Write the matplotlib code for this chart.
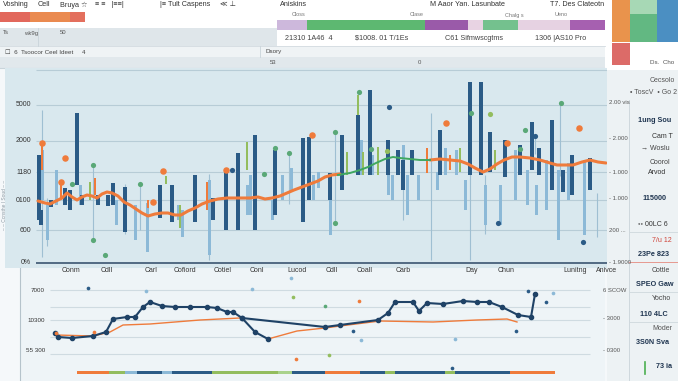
import matplotlib.pyplot as plt
from matplotlib.patches import Rectangle

plt.rcParams['font.family'] = ['Liberation Sans', 'DejaVu Sans']

W, H = 678, 381

# colours
DARK = "#2b5b86"
LIGHT = "#8cb9d7"
GREEN = "#93bd5e"
TEAL = "#5aa877"
ORANGE = "#ef7b3b"
kind_color = {"D": DARK, "L": LIGHT, "G": GREEN, "O": ORANGE, "T": TEAL,
              "g": "#a9d28c"}

# ---- main chart: range bars (x along timeline, low / high value)
bar_x = [39, 42, 42, 41, 47, 51, 56, 61, 65, 70, 77, 80, 82, 90, 95, 98, 108, 113,
         116, 125, 135, 147, 148, 160, 166, 172, 178, 180, 182, 195, 209, 207, 213,
         226, 238, 247, 247, 250, 255, 272, 275, 282, 291, 303, 309, 313, 318, 330,
         330, 342, 347, 358, 358, 361, 363, 370, 372, 378, 388, 388, 392, 398, 403,
         403, 407, 412, 418, 427, 437, 440, 445, 450, 456, 460, 465, 470, 481, 485,
         490, 495, 500, 505, 515, 520, 527, 532, 536, 539, 546, 552, 558, 563, 568,
         572, 584, 590, 597, 603]
bar_lo = [44, 64, 94, 39, 24, 57, 59, 64, 59, 54, 79, 59, 59, 64, 69, 59, 58, 59,
          39, 32, 24, 12, 56, 46, 80, 42, 44, 36, 27, 42, 9, 54, 44,
          34, 34, 94, 49, 49, 34, 44, 49, 64, 74, 42, 64, 64, 76, 29,
          64, 74, 89, 149, 89, 89, 89, 89, 89, 89, 89, 69, 64, 89, 89,
          74, 49, 89, 64, 91, 74, 89, 89, 94, 89, 92, 54, 89, 89, 39,
          92, 94, 39, 87, 64, 89, 59, 94, 49, 89, 54, 74, 24, 72, 64,
          69, 29, 74, 71, 72]
bar_hi = [109, 114, 119, 54, 59, 64, 94, 84, 76, 74, 151, 79, 69, 82, 86, 69, 69, 81,
          64, 77, 59, 61, 64, 79, 88, 79, 59, 59, 54, 89, 84, 82, 66,
          94, 111, 122, 79, 89, 129, 64, 114, 89, 96, 126, 127, 89, 92, 91,
          91, 129, 112, 169, 149, 124, 112, 174, 109, 117, 124, 89, 89, 114, 119,
          104, 89, 114, 89, 116, 92, 134, 116, 109, 114, 116, 84, 182, 182, 79,
          132, 114, 79, 124, 114, 119, 94, 142, 79, 116, 104, 144, 94, 94, 101,
          109, 104, 106, 157, 109]
bar_kind = ("DLODLDLODDDLDGODDDLDLLODGDLGLDLODDDGLLDLDLLDDLLLDDGGDLGDLGDLLDLDLDLOLDLOLGLDDLDGLDLDLDLDLDLDLDLD")

# thin stems
stem_x = [42, 47, 93, 125, 140, 209, 289, 335, 470, 485, 403, 560, 535, 597, 431]
stem_lo = [7, 18, 24, 30, 34, 4, 60, 41, 4, 30, 44, 88, 110, 27, 4]
stem_hi = [154, 66, 99, 80, 80, 90, 111, 132, 151, 89, 89, 161, 128, 71, 151]

# round markers
dot_x = [42, 65, 61, 72, 93, 93, 105, 140, 153, 163, 226, 232, 264, 289, 275, 312,
         335, 335, 359, 389, 471, 490, 446, 561, 579, 535, 525, 371, 387, 507, 520,
         583, 498]
dot_y = [121, 106, 82, 80, 99, 24, 9, 80, 62, 93, 94, 94, 90, 111, 116, 129,
         132, 41, 172, 157, 151, 150, 141, 161, 136, 128, 134, 115, 113, 121, 115,
         22, 41]
dot_kind = "OOOTTTTTOOODTTTOTTTDTGOTODTTGOTDD"

# orange and green trend lines
trend_x = [38, 45, 50, 56, 62, 67, 72, 77, 82, 87, 92, 97, 102, 107, 112, 118, 124,
           130, 136, 142, 148, 155, 162, 168, 175, 181, 188, 195, 202, 210, 218, 227,
           235, 243, 250, 258, 265, 272, 280, 287, 294, 302, 310, 318, 325, 332, 340]
trend_y = [63, 61, 60, 63, 66, 71, 67, 64, 67, 69, 68, 66, 70, 72, 71, 68, 62,
           59, 55, 51, 48, 50, 51, 51, 49, 49, 53, 56, 60, 63, 65, 66,
           66, 66, 66, 67, 65, 66, 68, 71, 74, 77, 80, 83, 87, 89, 90]
trend2_x = [430, 440, 450, 460, 468, 475, 483, 490, 497, 504, 512, 520, 530, 540,
            550, 557, 565, 573, 582, 590, 598, 606]
trend2_y = [104, 105, 104, 103, 100, 96, 92, 95, 100, 104, 107, 107, 106, 104,
            101, 99, 99, 99, 102, 104, 102, 101]
green_x = [338, 350, 360, 368, 376, 385, 393, 400, 410, 420, 430]
green_y = [89, 91, 94, 97, 101, 105, 107, 106, 105, 104, 104]

main_grid = [194, 159, 123, 92, 64, 34]
main_left_pos = [159, 123, 92, 64, 34, 1]
main_left_lab = ["5000", "2000", "1180", "0100", "600", "0%"]
main_right_pos = [161, 125, 92, 66, 34, 2]
main_right_lab = ["2.00 vis", "- 2.000", "- 1.000", "- 1.000", "200 ...", "- 1.9000"]

# ---- bottom chart
blueA_x = [55, 58, 72, 93, 106, 113, 127, 135, 143, 150, 162, 175, 190, 207, 217,
           227, 233, 242, 255, 268]
blueA_y = [48, 44, 43, 45, 49, 62, 64, 64, 74, 79, 75, 74, 74, 74, 73, 69, 69, 63,
           49, 42]
blueB_x = [242, 325, 340, 378, 388, 395, 413, 419, 427, 443, 463, 477, 489, 502,
           518, 531, 535]
blueB_y = [63, 54, 56, 61, 68, 79, 79, 70, 78, 77, 80, 79, 79, 74, 66, 64, 87]
orangeA_x = [56, 93, 110, 123, 150, 200, 240]
orangeA_y = [46, 45, 49, 56, 57, 61, 63]
orangeB_x = [268, 297, 325, 340, 380, 433, 477, 507, 517]
orangeB_y = [42, 50, 53, 55, 60, 59, 61, 62, 59]
sc_x = [88, 146, 252, 291, 293, 325, 359, 353, 361, 455, 516, 528, 546, 553, 452,
        296, 329, 94, 56]
sc_y = [93, 90, 92, 103, 84, 75, 80, 50, 41, 42, 50, 90, 79, 88, 13, 22, 26, 49, 48]
sc_kind = "DLLLGTODLLDDDLDOGOO"
strip_x0 = [77, 109, 125, 137, 162, 172, 212, 278, 292, 325, 340, 360, 385, 395,
            445, 455, 510]
strip_x1 = [109, 125, 137, 162, 172, 212, 278, 292, 325, 340, 360, 385, 395, 445,
            455, 510, 555]
strip_kind = "OGLDLDGgDOODGDGDO"
bottom_grid = [91, 74, 61, 44, 27]
bottom_left_pos = [90, 61, 31]
bottom_left_lab = ["7000", "10300", "55 300"]
bottom_right_pos = [90, 62, 30]
bottom_right_lab = ["6 SCOW", "- 3000", "- 0300"]
cat_x = [71, 107, 151, 185, 223, 257, 297, 332, 365, 403, 472, 506, 575, 607]
cat_lab = ["Conm", "Cdll", "Carl", "Cofiord", "Cotiel", "Conl", "Lucod", "Cdll",
           "Coall", "Carb", "Day", "Chun", "Lunitng", "Anivce"]

# ---- header / side panel blocks
red_x0 = [0, 30, 70]
red_x1 = [30, 70, 85]
red_col = ["#e2685c", "#ea8a50", "#e36f5d"]
hstrip_x0 = [277, 307, 425, 468, 483, 518, 570]
hstrip_x1 = [307, 425, 468, 483, 518, 570, 605]
hstrip_col = ["#cdb8dc", "#5db871", "#9a5aa9", "#e8d3e3", "#74c18e", "#e6d2e2", "#a660b0"]
card_x0 = [612, 630, 630, 657, 612]
card_y0 = [0, 0, 14, 0, 43]
card_x1 = [630, 657, 657, 678, 630]
card_y1 = [42, 14, 42, 42, 65]
card_col = ["#e9934c", "#a7d8b5", "#62b882", "#4b8fc2", "#dc6b68"]

side_y = [80, 92, 121, 137, 149, 162, 173, 198, 224, 241, 254, 271, 285, 299, 314,
          328, 342, 367]
side_x = [650, 630, 638, 652, 641, 650, 648, 642, 638, 652, 638, 652, 636, 652, 640,
          652, 636, 656]
side_txt = ["Cecsolo", "• ToscV  • Go 2", "1ung Sou", "Cam T", "→ Woslu", "Coorol",
            "Arvod", "115000", "◦◦ 00LC 6", "7/u 12", "23Pe 823", "Cottle",
            "SPEO Gaw", "Yocho", "110 4LC", "Moder", "3S0N Sva", "73 ia"]
side_bold = [0, 0, 1, 0, 0, 0, 0, 1, 0, 0, 1, 0, 1, 0, 1, 0, 1, 1]
side_col = ["#555", "#555", "#1f3550", "#333", "#444", "#444", "#333", "#1f3550",
            "#333", "#d0453a", "#1f3550", "#444", "#1f3550", "#444", "#1f3550",
            "#555", "#1f3550", "#1f3550"]

fig = plt.figure(figsize=(W / 100, H / 100), dpi=100)
fig.patch.set_facecolor("#f5f8fa")


def px_axes(l, t, r, b):
    return fig.add_axes([l / W, 1 - b / H, (r - l) / W, (b - t) / H])


# background / decoration layer in pixel units
bg = px_axes(0, 0, W, H)
bg.set_xlim(0, W)
bg.set_ylim(H, 0)
bg.axis("off")


def box(x0, y0, x1, y1, c, **kw):
    bg.add_patch(Rectangle((x0, y0), x1 - x0, y1 - y0, color=c, lw=0, **kw))


box(0, 0, 605, 12, "white")
box(0, 12, 605, 30, "white")
for a, b, c in zip(red_x0, red_x1, red_col):
    box(a, 12, b, 22, c)
for a, b, c in zip(hstrip_x0, hstrip_x1, hstrip_col):
    box(a, 20, b, 30, c)
box(0, 28, 277, 46, "#dfe6ea")
box(277, 30, 605, 46, "white")
box(0, 46, 605, 57, "#eff3f5")
box(0, 57, 605, 68, "#e1e8ec")
bg.plot([0, 605], [68, 68], color="#c9d4da", lw=0.8)
bg.plot([0, 605], [46, 46], color="#d3dbe0", lw=0.6)
bg.plot([260, 260], [46, 57], color="#c9d4da", lw=0.6)
bg.plot([38, 38], [28, 46], color="#c9d4da", lw=0.6)
# top right card
box(605, 0, 678, 70, "white")
for a, b, c, d, col in zip(card_x0, card_y0, card_x1, card_y1, card_col):
    box(a, b, c, d, col)
bg.text(650, 63, "Ds.  Cho", fontsize=4.5, color="#555", va="center")
# side panel
box(607, 70, 678, 381, "#edf2f4")
bg.plot([629, 629], [100, 381], color="#cfd8dd", lw=0.7)
for yy in [232, 292, 322]:
    bg.plot([629, 678], [yy, yy], color="#cfd8dd", lw=0.6)
bg.plot([629, 678], [262, 262], color="#e58a80", lw=0.6)
for x, y, t, bo, c in zip(side_x, side_y, side_txt, side_bold, side_col):
    bg.text(x, y, t, fontsize=5.2 if bo else 5, color=c, va="center",
            fontweight="bold" if bo else "normal")
bg.plot([645, 645], [362, 374], color="#4caf50", lw=1.2)

# header texts
tool_x = [3, 38, 60, 95, 160, 220, 280, 430, 550]
tool_t = ["Voshing", "Cell", "Bruya ☆", "≡ ≡   |≡≡|", "|≡ Tult Caspens", "≪ ⊥",
          "Aniskins", "M Aaor Yan. Lasunbate", "T7. Des Clateotn"]
for x, t in zip(tool_x, tool_t):
    bg.text(x, 5, t, fontsize=5.2, color="#333", va="center")
for x, t in zip([292, 410, 505, 555], ["Closs", "Clase", "Chalg s", "Ueno"]):
    bg.text(x, 15, t, fontsize=4, color="#777", va="center")
for x, t in zip([285, 355, 445, 535],
                ["21310 1A46  4", "$1008. 01 T/1Es", "C61 Sifmwscgtms", "1306 |AS10 Pro"]):
    bg.text(x, 38, t, fontsize=5.2, color="#444", va="center")
for x, t in zip([3, 24, 60], ["Ts", "wk9g", "50"]):
    bg.text(x, 33, t, fontsize=4.3, color="#555", va="center")
bg.text(5, 52, "☐  6  Tsoocor Ceel Ideet     4", fontsize=4.5, color="#444", va="center")
bg.text(265, 52, "Dsory", fontsize=4.5, color="#444", va="center")
bg.text(270, 63, "53", fontsize=4.3, color="#555", va="center")
bg.text(418, 63, "0", fontsize=4.3, color="#555", va="center")
bg.text(5, 205, "– – Ccnsthe | Soud – –", fontsize=3.5, color="#8a99a3",
        rotation=90, va="center", ha="center")

# ---- main chart
ax = px_axes(5, 68, 607, 268)
ax.set_facecolor("#d9e8ee")
ax.set_xlim(5, 607)
ax.set_ylim(-4, 196)
for s in ax.spines.values():
    s.set_visible(False)
ax.set_xticks([])
ax.set_yticks([])
ax.hlines(main_grid, 36, 607, color="#b7ccd6", lw=0.8, zorder=1)
ax.hlines([1], 36, 607, color="#3b5570", lw=1.2, zorder=6)
ax.vlines(stem_x, stem_lo, stem_hi, color="#9fbfd2", lw=0.8, zorder=2)
widths = {"D": 3.2, "L": 3.0, "G": 2.6, "O": 2.8}
zs = {"L": 3, "G": 4, "O": 4, "D": 5}
for x, lo, hi, k in zip(bar_x, bar_lo, bar_hi, bar_kind):
    ax.bar(x, hi - lo, bottom=lo, width=widths[k], color=kind_color[k],
           zorder=zs[k], lw=0)
ax.plot(trend_x, trend_y, color=ORANGE, lw=2.2, zorder=7, solid_capstyle="round")
ax.plot(trend2_x, trend2_y, color=ORANGE, lw=2.2, zorder=7, solid_capstyle="round")
ax.plot(green_x, green_y, color="#3fa860", lw=1.4, zorder=7)
for x, y, k in zip(dot_x, dot_y, dot_kind):
    ax.scatter(x, y, s=22 if k == "O" else 14, color=kind_color[k], zorder=8, lw=0)
for y, t in zip(main_left_pos, main_left_lab):
    ax.text(31, y, t, fontsize=5, color="#333", ha="right", va="center")
for y, t in zip(main_right_pos, main_right_lab):
    ax.text(609, y, t, fontsize=4.3, color="#555", ha="left", va="center",
            clip_on=False)

# ---- bottom chart
bx = px_axes(20, 268, 605, 381)
bx.set_facecolor("#eef4f7")
bx.set_xlim(20, 605)
bx.set_ylim(0, 113)
for s in ["top", "right", "bottom"]:
    bx.spines[s].set_visible(False)
bx.spines["left"].set_color("#b5c3cb")
bx.set_xticks([])
bx.set_yticks([])
bx.hlines(bottom_grid, 50, 590, color="#cfdbe1", lw=0.8)
bx.plot(orangeA_x, orangeA_y, color=ORANGE, lw=1.0, zorder=3)
bx.plot(orangeB_x, orangeB_y, color=ORANGE, lw=1.0, zorder=3)
bx.plot(blueA_x, blueA_y, color="#1f4266", lw=1.5, marker="o", ms=3.0, zorder=4)
bx.plot(blueB_x, blueB_y, color="#1f4266", lw=1.5, marker="o", ms=3.0, zorder=4)
for x, y, k in zip(sc_x, sc_y, sc_kind):
    bx.scatter(x, y, s=7, color=kind_color[k], zorder=5, lw=0)
bx.barh([9] * len(strip_x0), [b - a for a, b in zip(strip_x0, strip_x1)],
        left=strip_x0, height=3, color=[kind_color[k] for k in strip_kind], lw=0)
for x, t in zip(cat_x, cat_lab):
    bx.text(x, 110, t, fontsize=5, color="#333", ha="center", va="center",
            clip_on=False)
for y, t in zip(bottom_left_pos, bottom_left_lab):
    bx.text(45, y, t, fontsize=4.5, color="#333", ha="right", va="center")
for y, t in zip(bottom_right_pos, bottom_right_lab):
    bx.text(603, y, t, fontsize=4.3, color="#555", ha="left", va="center",
            clip_on=False)

fig.savefig("out.png", dpi=100, facecolor=fig.get_facecolor())
